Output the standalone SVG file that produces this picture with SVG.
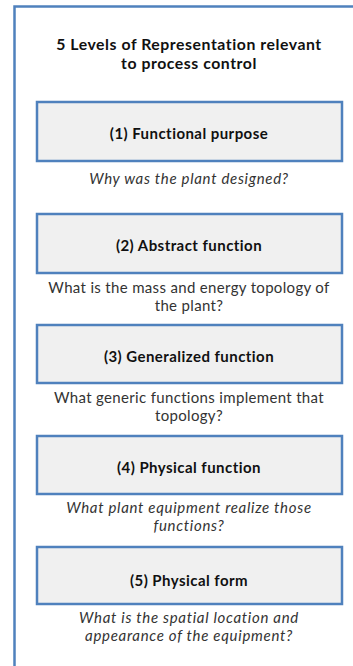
<svg xmlns="http://www.w3.org/2000/svg" width="353" height="666" viewBox="0 0 353 666">
  <style>
    .frame { fill: #ffffff; stroke: #4f81bd; stroke-width: 2.5; }
    .box { fill: #f0f0f0; stroke: #4f81bd; stroke-width: 2.5; }
    text { font-family: Lato, "Liberation Sans", sans-serif; text-anchor: middle; }
    .title { font-weight: bold; font-size: 15.8px; letter-spacing: 0.55px; fill: #111; }
    .label { font-weight: bold; font-size: 15px; letter-spacing: 0.45px; fill: #111; }
    .cap { font-size: 15px; letter-spacing: 0.33px; fill: #333; }
    .it { font-style: italic; letter-spacing: 0.7px; }
  </style>
  <rect width="353" height="666" fill="#ffffff"/>
  <!-- outer panel, running off the right and bottom edges -->
  <rect class="frame" x="14.5" y="6.5" width="380" height="700"/>

  <g id="title">
    <text class="title" x="189" y="50">5 Levels of Representation relevant</text>
    <text class="title" x="189" y="69">to process control</text>
  </g>

  <g id="level1">
    <rect class="box" x="37" y="102" width="305" height="59"/>
    <text class="label" x="189" y="139">(1) Functional purpose</text>
    <text class="cap it" x="189" y="184">Why was the plant designed?</text>
  </g>

  <g id="level2">
    <rect class="box" x="37" y="214" width="305" height="59"/>
    <text class="label" x="189" y="251">(2) Abstract function</text>
    <text class="cap" x="189" y="293">What is the mass and energy topology of</text>
    <text class="cap" x="189" y="311">the plant?</text>
  </g>

  <g id="level3">
    <rect class="box" x="37" y="325" width="305" height="58"/>
    <text class="label" x="189" y="362">(3) Generalized function</text>
    <text class="cap" x="189" y="403">What generic functions implement that</text>
    <text class="cap" x="189" y="421">topology?</text>
  </g>

  <g id="level4">
    <rect class="box" x="37" y="436" width="305" height="58"/>
    <text class="label" x="189" y="473">(4) Physical function</text>
    <text class="cap it" x="189" y="513">What plant equipment realize those</text>
    <text class="cap it" x="189" y="531">functions?</text>
  </g>

  <g id="level5">
    <rect class="box" x="37" y="547" width="305" height="57"/>
    <text class="label" x="189" y="586">(5) Physical form</text>
    <text class="cap it" x="189" y="623">What is the spatial location and</text>
    <text class="cap it" x="189" y="641">appearance of the equipment?</text>
  </g>

  <g id="connectors"></g>
</svg>
